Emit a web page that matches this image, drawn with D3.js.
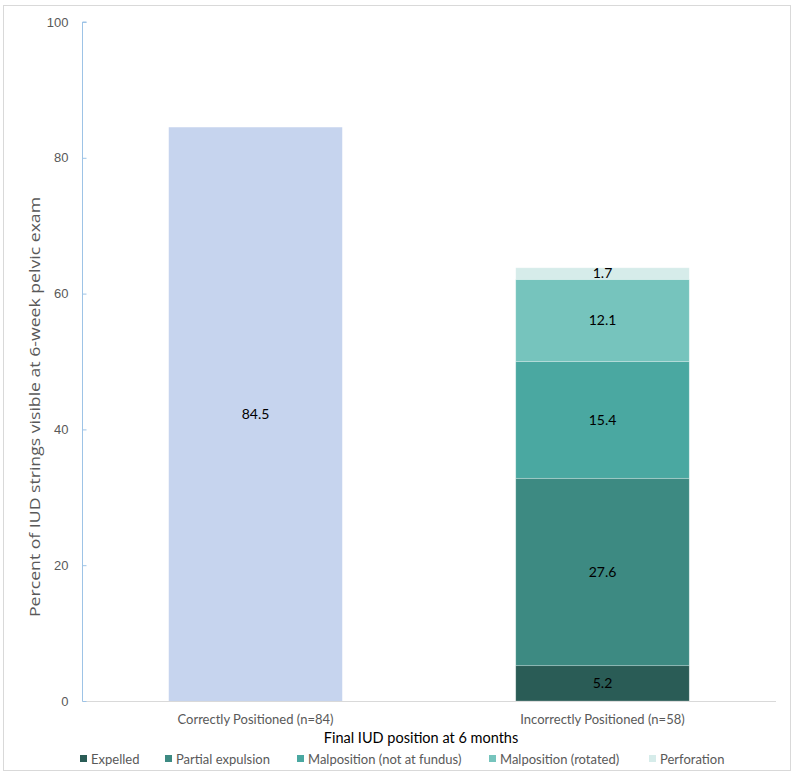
<!DOCTYPE html>
<html>
<head>
<meta charset="utf-8">
<script src="https://cdn.jsdelivr.net/npm/d3@7"></script>
<style>
  html, body { margin: 0; padding: 0; background: #fff; }
  svg { display: block; font-family: Lato, "Open Sans", sans-serif; }
</style>
</head>
<body>
<svg id="chart" width="800" height="780"></svg>
<script>
// ---- data ----
const categories = ["Correctly Positioned (n=84)", "Incorrectly Positioned (n=58)"];
const correctlyPositioned = [84.5, 0];
const seriesNames = ["Expelled", "Partial expulsion", "Malposition (not at fundus)", "Malposition (rotated)", "Perforation"];
const expelled = [0, 5.2];
const partialExpulsion = [0, 27.6];
const malpositionNotFundus = [0, 17.2];
const malpositionRotated = [0, 12.1];
const perforation = [0, 1.7];
// labels as printed on the chart
const correctLabels = ["84.5", ""];
const segmentLabels = ["5.2", "27.6", "15.4", "12.1", "1.7"];
const yTicks = [0, 20, 40, 60, 80, 100];
const yTitle = "Percent of IUD strings visible at 6-week pelvic exam";
const xTitle = "Final IUD position at 6 months";

const seriesColors = ["#2A5C56", "#3D8A82", "#4AA8A1", "#76C4BD", "#D6ECEA"];
const correctColor = "#C6D4EE";

const svg = d3.select("#chart");

// outer frame
svg.append("rect").attr("x", 3.5).attr("y", 5.5).attr("width", 787).attr("height", 765)
  .attr("fill", "none").attr("stroke", "#D9D9D9").attr("stroke-width", 1);

const plot = { left: 82, right: 776, top: 22, bottom: 701 };

const x = d3.scaleBand().domain(categories).range([plot.left, plot.right]).paddingInner(0.5).paddingOuter(0.25);
const y = d3.scaleLinear().domain([0, 100]).range([plot.bottom, plot.top]);

// baseline
svg.append("line").attr("x1", plot.left).attr("x2", plot.right)
  .attr("y1", plot.bottom + 0.5).attr("y2", plot.bottom + 0.5)
  .attr("stroke", "#D9D9D9").attr("stroke-width", 1);

// y axis
const yAxis = d3.axisRight(y).tickValues(yTicks).tickSize(4).tickFormat(d3.format("d"));
const yg = svg.append("g").attr("transform", `translate(${plot.left + 0.5},0)`).call(yAxis);
yg.select(".domain").attr("stroke", "#9DC3E6").attr("d", `M4,${plot.top}H0V${plot.bottom}`);
yg.selectAll(".tick line").attr("stroke", "#9DC3E6");
yg.selectAll(".tick text").attr("x", -14).attr("text-anchor", "end")
  .attr("fill", "#595959").style("font-size", "13px");

// y title
svg.append("text").attr("transform", `translate(40,407) rotate(-90)`)
  .attr("text-anchor", "middle").attr("fill", "#595959")
  .style("font-family", "'Open Sans', sans-serif").style("font-size", "15px")
  .attr("textLength", 420).attr("lengthAdjust", "spacingAndGlyphs").text(yTitle);

// correctly positioned bars
svg.append("g").selectAll("rect").data(categories).join("rect")
  .attr("x", d => x(d)).attr("width", x.bandwidth())
  .attr("y", (d, i) => y(correctlyPositioned[i]))
  .attr("height", (d, i) => y(0) - y(correctlyPositioned[i]))
  .attr("fill", correctColor);
svg.append("g").selectAll("text").data(categories).join("text")
  .filter((d, i) => correctlyPositioned[i] > 0)
  .attr("x", d => x(d) + x.bandwidth() / 2)
  .attr("y", (d) => { const i = categories.indexOf(d); return y(correctlyPositioned[i] / 2); })
  .attr("dy", "0.35em").attr("text-anchor", "middle").attr("fill", "#000").style("font-size", "14px")
  .text(d => correctLabels[categories.indexOf(d)]);

// stacked series
const seriesArrays = [expelled, partialExpulsion, malpositionNotFundus, malpositionRotated, perforation];
const table = categories.map((c, i) => {
  const row = { category: c };
  seriesNames.forEach((s, k) => row[s] = seriesArrays[k][i]);
  return row;
});
const stacked = d3.stack().keys(seriesNames)(table);

const layers = svg.append("g").selectAll("g").data(stacked).join("g")
  .attr("fill", (d, k) => seriesColors[k]);
layers.selectAll("rect").data(d => d.filter(p => p[1] - p[0] > 0)).join("rect")
  .attr("x", p => x(p.data.category)).attr("width", x.bandwidth())
  .attr("y", p => y(p[1])).attr("height", p => y(p[0]) - y(p[1]))
  .attr("stroke", "rgba(255,255,255,0.35)").attr("stroke-width", 0.7);

svg.append("g").selectAll("g").data(stacked).join("g")
  .each(function (layer, k) {
    d3.select(this).selectAll("text").data(layer.filter(p => p[1] - p[0] > 0)).join("text")
      .attr("x", p => x(p.data.category) + x.bandwidth() / 2)
      .attr("y", p => y((p[0] + p[1]) / 2))
      .attr("dy", "0.35em").attr("text-anchor", "middle").attr("fill", "#000")
      .style("font-size", "14px").text(segmentLabels[k]);
  });

// category labels
svg.append("g").selectAll("text").data(categories).join("text")
  .attr("x", d => x(d) + x.bandwidth() / 2).attr("y", 724)
  .attr("text-anchor", "middle").attr("fill", "#595959").style("font-size", "13px").text(d => d);

// x title
svg.append("text").attr("x", 421).attr("y", 743).attr("text-anchor", "middle")
  .attr("fill", "#000").style("font-size", "14.5px").text(xTitle);

// legend
const legendX = [80, 165, 297, 489, 649];
const lg = svg.append("g").selectAll("g").data(seriesNames).join("g")
  .attr("transform", (d, k) => `translate(${legendX[k]},759)`);
lg.append("rect").attr("x", 0).attr("y", -4).attr("width", 7).attr("height", 7)
  .attr("fill", (d, k) => seriesColors[k]);
lg.append("text").attr("x", 11).attr("y", 0).attr("dy", "0.35em")
  .attr("fill", "#595959").style("font-size", "13px").text(d => d);
</script>
</body>
</html>
